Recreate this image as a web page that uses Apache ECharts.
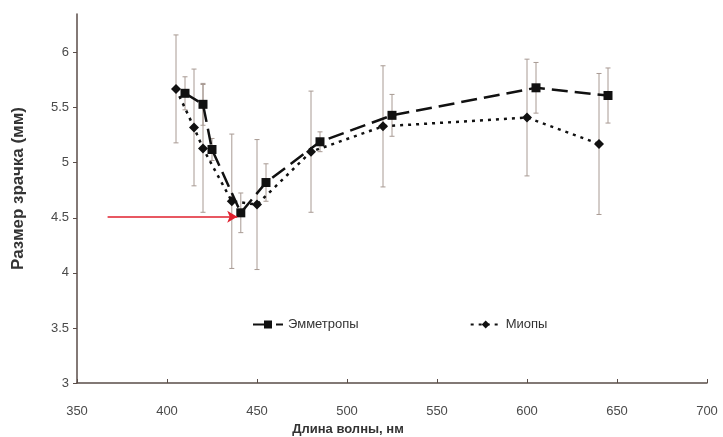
<!DOCTYPE html>
<html>
<head>
<meta charset="utf-8">
<script src="https://cdn.jsdelivr.net/npm/echarts@6/dist/echarts.min.js"></script>
<style>
  html, body { margin: 0; padding: 0; background: #ffffff; }
  #chart { width: 723px; height: 437px; }
</style>
</head>
<body>
<div id="chart"></div>
<script>
// Wavelength (nm) and pupil size (mm) with error half-widths
const emmWave = [410, 420, 425, 441, 455, 485, 525, 605, 645];
const emmSize = [5.63, 5.53, 5.12, 4.545, 4.82, 5.19, 5.43, 5.68, 5.61];
const emmErr  = [0.15, 0.19, 0.10, 0.18, 0.17, 0.09, 0.19, 0.23, 0.25];

const myoWave = [405, 415, 420, 436, 450, 480, 520, 600, 640];
const myoSize = [5.67, 5.32, 5.13, 4.65, 4.62, 5.10, 5.33, 5.41, 5.17];
const myoErr  = [0.49, 0.53, 0.58, 0.61, 0.59, 0.55, 0.55, 0.53, 0.64];

const yTicks = [3, 3.5, 4, 4.5, 5, 5.5, 6];
const seriesNames = ['Эмметропы', 'Миопы'];

// Red pointer: start and end (wavelength, pupil size)
const arrowFrom = [367, 4.51];
const arrowTo = [439, 4.51];

const pairs = (xs, ys) => xs.map((x, i) => [x, ys[i]]);
const bars = (xs, ys, es) => xs.map((x, i) => [x, ys[i] - es[i], ys[i] + es[i]]);

const errColor = '#a89a93';
function renderErr(params, api) {
  const x = api.value(0);
  const lo = api.coord([x, api.value(1)]);
  const hi = api.coord([x, api.value(2)]);
  const cap = 2.5;
  const st = { stroke: errColor, lineWidth: 1 };
  return {
    type: 'group',
    children: [
      { type: 'line', shape: { x1: lo[0], y1: lo[1], x2: hi[0], y2: hi[1] }, style: st },
      { type: 'line', shape: { x1: lo[0] - cap, y1: lo[1], x2: lo[0] + cap, y2: lo[1] }, style: st },
      { type: 'line', shape: { x1: hi[0] - cap, y1: hi[1], x2: hi[0] + cap, y2: hi[1] }, style: st }
    ]
  };
}

const axisColor = '#5a4d48';
const labelColor = '#4a4a4a';
const font = '"Liberation Sans", Arial, sans-serif';

const chart = echarts.init(document.getElementById('chart'), null, { renderer: 'canvas' });
chart.setOption({
  backgroundColor: '#ffffff',
  animation: false,
  grid: { left: 77, right: 16, top: 14, bottom: 54, containLabel: false, outerBoundsMode: 'none' },
  legend: {
    data: seriesNames,
    left: 247,
    top: 313,
    itemWidth: 30,
    itemHeight: 10,
    itemGap: 111,
    textStyle: { color: '#333', fontSize: 13, fontFamily: font }
  },
  xAxis: {
    type: 'value',
    min: 350, max: 700, interval: 50,
    name: 'Длина волны, нм',
    nameLocation: 'middle',
    nameGap: 39,
    nameTextStyle: { color: '#333', fontSize: 13, fontWeight: 'bold', fontFamily: font, padding: [0, 88, 0, 0] },
    axisLine: { lineStyle: { color: axisColor, width: 1.5 } },
    axisTick: { inside: true, length: 4, lineStyle: { color: axisColor } },
    axisLabel: { color: labelColor, fontSize: 13, fontFamily: font, margin: 22 },
    splitLine: { show: false }
  },
  yAxis: {
    type: 'value',
    min: 3, max: 6.35,
    name: 'Размер зрачка (мм)',
    nameLocation: 'middle',
    nameGap: 50,
    nameTextStyle: { color: '#333', fontSize: 17, fontWeight: 'bold', fontFamily: font, padding: [0, 0, 0, 20] },
    axisLine: { show: true, lineStyle: { color: axisColor, width: 1.5 } },
    axisTick: { show: true, length: 4, customValues: yTicks, lineStyle: { color: axisColor } },
    axisLabel: { color: labelColor, fontSize: 13, fontFamily: font, margin: 8, customValues: yTicks },
    splitLine: { show: false }
  },
  series: [
    {
      type: 'custom',
      name: 'errE',
      renderItem: renderErr,
      data: bars(emmWave, emmSize, emmErr),
      encode: { x: 0, y: [1, 2] },
      z: 1,
      silent: true
    },
    {
      type: 'custom',
      name: 'errM',
      renderItem: renderErr,
      data: bars(myoWave, myoSize, myoErr),
      encode: { x: 0, y: [1, 2] },
      z: 1,
      silent: true
    },
    {
      type: 'line',
      name: seriesNames[0],
      data: pairs(emmWave, emmSize),
      symbol: 'rect',
      symbolSize: 9,
      itemStyle: { color: '#111111' },
      lineStyle: { color: '#111111', width: 2.5, type: [16, 7] },
      z: 3,
      markLine: {
        silent: true,
        symbol: ['none', 'arrow'],
        symbolSize: [9, 10],
        label: { show: false },
        lineStyle: { color: '#e0202e', width: 1.6, type: 'solid' },
        data: [[{ coord: arrowFrom }, { coord: arrowTo }]]
      }
    },
    {
      type: 'line',
      name: seriesNames[1],
      data: pairs(myoWave, myoSize),
      symbol: 'diamond',
      symbolSize: 10,
      itemStyle: { color: '#111111' },
      lineStyle: { color: '#111111', width: 2.5, type: [3, 5] },
      z: 3
    }
  ]
});
</script>
</body>
</html>
